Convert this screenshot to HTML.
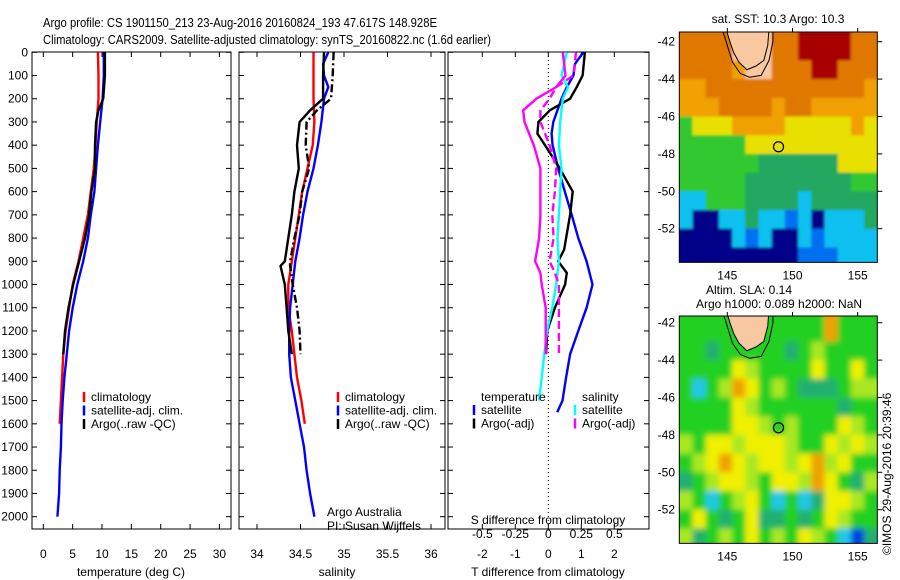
<!DOCTYPE html>
<html><head><meta charset="utf-8"><style>
body{margin:0;background:#fff}
svg{display:block;font-family:"Liberation Sans",sans-serif}
</style></head><body>
<svg id="c" width="900" height="580" viewBox="0 0 900 580">
<defs><filter id="blur" x="-5%" y="-5%" width="110%" height="110%"><feGaussianBlur stdDeviation="3"/></filter>
<filter id="blur2" x="-5%" y="-5%" width="110%" height="110%"><feGaussianBlur stdDeviation="1.2"/></filter></defs>
<text x="43" y="27" font-size="13" textLength="394" lengthAdjust="spacingAndGlyphs">Argo profile: CS 1901150_213 23-Aug-2016 20160824_193 47.617S 148.928E</text>
<text x="43" y="44" font-size="13" textLength="448" lengthAdjust="spacingAndGlyphs">Climatology: CARS2009. Satellite-adjusted climatology: synTS_20160822.nc (1.6d earlier)</text>
</svg>
<script>
// ---- data ----
const depthTicks=[0,100,200,300,400,500,600,700,800,900,1000,1100,1200,1300,1400,1500,1600,1700,1800,1900,2000];
const tTicks=[0,5,10,15,20,25,30];
const sTicks=[34,34.5,35,35.5,36];
const dTTicks=[-2,-1,0,1,2];
const dSTicks=[-0.5,-0.25,0,0.25,0.5];
const dSTickLabels=["-0.5","-0.25","0","0.25","0.5"];
const latTicks=[-42,-44,-46,-48,-50,-52];
const lonTicks=[145,150,155];
// temperature
const tClimDepth=[0,100,200,300,400,500,600,700,800,900,1000,1100,1200,1300,1400,1500,1600];
const tClim=[9.3,9.4,9.4,9.1,8.9,8.6,8.1,7.6,6.8,6.0,5.0,4.4,3.8,3.4,3.2,3.0,2.8];
const tSatDepth=[0,100,200,300,400,500,600,700,800,900,1000,1100,1200,1300,1400,1500,1600,1700,1800,1900,2000];
const tSat=[10.3,10.3,10.1,9.7,9.3,9.0,8.7,8.1,7.6,6.8,5.8,5.0,4.4,4.0,3.6,3.3,3.1,3.0,2.8,2.7,2.4];
const tArgoDepth=[0,100,200,250,300,400,500,600,700,800,900,1000,1100,1200,1300];
const tArgo=[10.5,10.5,10.2,9.4,9.0,8.8,8.8,8.2,7.8,7.1,6.1,5.1,4.3,3.7,3.4];
// salinity
const sClimDepth=tClimDepth;
const sClim=[34.65,34.65,34.65,34.66,34.64,34.58,34.52,34.48,34.44,34.40,34.36,34.36,34.40,34.43,34.46,34.51,34.55];
const sSatDepth=[0,50,100,150,200,300,400,500,600,700,800,900,1000,1100,1200,1300,1400,1500,1600,1700,1800,1900,2000];
const sSat=[34.82,34.76,34.77,34.82,34.77,34.74,34.70,34.65,34.58,34.53,34.49,34.44,34.41,34.38,34.37,34.37,34.39,34.44,34.49,34.54,34.57,34.61,34.66];
const sArgoDepth=[0,100,200,250,300,400,500,600,700,800,900,920,1000,1100,1200,1300];
const sArgo=[34.77,34.76,34.76,34.61,34.49,34.46,34.48,34.43,34.40,34.36,34.32,34.27,34.32,34.34,34.36,34.40];
const sArgoRaw=[34.88,34.87,34.85,34.69,34.57,34.56,34.60,34.52,34.49,34.43,34.38,34.38,34.41,34.46,34.49,34.50];
// differences
const dTSatDepth=[0,50,100,150,200,300,350,400,500,600,700,800,900,1000,1100,1200,1300,1400,1500,1550];
const dTSat=[1.06,0.81,0.76,0.56,0.40,0.15,0.10,0.13,0.30,0.50,0.71,0.91,1.16,1.34,1.16,0.91,0.66,0.54,0.43,0.27];
const dTArgoDepth=[0,100,150,200,250,300,350,400,500,600,700,800,850,900,950,1000,1100,1200,1300];
const dTArgo=[1.11,1.04,0.86,0.66,0.05,-0.30,-0.33,-0.10,0.35,0.74,0.66,0.54,0.48,0.30,0.56,0.51,0.20,-0.03,-0.07];
const dSSatDepth=[0,100,150,200,300,400,500,600,700,800,900,1000,1100,1200,1300,1400,1500];
const dSSat=[0.14,0.10,0.15,0.11,0.09,0.08,0.10,0.09,0.08,0.07,0.08,0.06,0.03,-0.01,-0.03,-0.05,-0.07];
const dSArgoDepth=[0,100,150,200,250,300,400,500,600,700,800,900,950,1000,1100,1200,1300];
const dSArgoRaw=[0.11,0.13,0.06,-0.09,-0.19,-0.18,-0.11,-0.06,-0.06,-0.06,-0.07,-0.10,-0.06,-0.05,-0.02,-0.02,-0.02];
const dSArgo=[0.21,0.19,0.06,0.01,-0.06,-0.06,0.01,0.06,0.05,0.03,0.04,0.01,0.05,0.08,0.08,0.08,0.08];
// maps (color codes per ~1deg cell, rows lat -42 downward, cols lon 141.3 eastward)
const sstGrid=[
"OOOOLLLOORRRROO","OOOOoLLOOORROOO","ooOOOOOOOOOOOOo","oooOOOOoOOooooo",
"GYYYooooYYYYYoY","GGGGGYYYYYYYYYY","GGGGGGggggggYYY","GGGGGggggggggGG",
"CCGGGggggCggggg","CNNCCgCCBCNCCCg","NNNNCBCNNCBCCCC","NNNNNNNNNBBBCCC"];
const slaGrid=[
"GGGGLLLGGGGOGGG","GGgGGLLGgGyGGGG","GGGGYyGGGGYGGYG","GCGyOYGyGgggGyy",
"GGGGYyGGGGGGgGG","GGGGYYyGyGGGYyG","yGYYyYYYyGGYyYy","GyYOYyYYyYOyYGG",
"gGyYYyGYYyOYGgy","yGCGyYGCGCgYYyG","GYGgGYggGgGYyGG","ygGyGYGyGYyGCBg"];
const argoLon=148.928, argoLat=-47.617;

// ---- helpers ----
const svg=document.getElementById('c');
const NS='http://www.w3.org/2000/svg';
function mk(tag,attrs,parent){const e=document.createElementNS(NS,tag);for(const k in attrs)e.setAttribute(k,attrs[k]);(parent||svg).appendChild(e);return e;}
const yD=d=>52.3+d*0.2322;
const PANEL_TOP=52, PANEL_BOT=529;
const xT=v=>43.3+v*5.87;
const xS=v=>257+(v-34)*87;
const xDT=v=>548.3+v*33;
const xDS=v=>548.3+v*132;

function frame(x0,x1,name){
  const r=mk('rect',{x:x0,y:PANEL_TOP,width:x1-x0,height:PANEL_BOT-PANEL_TOP,fill:'#fff',stroke:'#000','stroke-width':1});
  
  
  depthTicks.forEach(d=>{
    mk('line',{x1:x0,x2:x0+5,y1:yD(d),y2:yD(d),stroke:'#000'});
    mk('line',{x1:x1-5,x2:x1,y1:yD(d),y2:yD(d),stroke:'#000'});
  });
}
function xticks(vals,fx,x0,x1,labels,ly,name){
  vals.forEach((v,i)=>{
    const x=fx(v);
    mk('line',{x1:x,x2:x,y1:PANEL_TOP,y2:PANEL_TOP+5,stroke:'#000'});
    mk('line',{x1:x,x2:x,y1:PANEL_BOT-5,y2:PANEL_BOT,stroke:'#000'});
    const t=mk('text',{x:x,y:ly,'font-size':12,'text-anchor':'middle'});
    t.textContent=labels?labels[i]:String(v);
    
    
  });
}
function line(xs,ds,fx,color,name,dash,w){
  const pts=xs.map((v,i)=>fx(v).toFixed(1)+','+yD(ds[i]).toFixed(1)).join(' ');
  const p=mk('polyline',{points:pts,fill:'none',stroke:color,'stroke-width':w||2.4,'stroke-linejoin':'round'});
  if(dash)p.setAttribute('stroke-dasharray',dash);
  
  
}
function txt(x,y,s,name,size,anchor){
  const t=mk('text',{x:x,y:y,'font-size':size||12,'text-anchor':anchor||'start'});
  t.textContent=s;
  
  
  return t;
}
function legend(x,y,items,prefix){
  items.forEach((it,i)=>{
    mk('line',{x1:x,x2:x,y1:y+i*13.5-9,y2:y+i*13.5+1,stroke:it[1],'stroke-width':2.5});
    txt(x+7,y+i*13.5,it[0],prefix+'-legend-entry');
  });
}

// ---- panel 1: temperature ----
frame(32,231,'temperature-panel');
depthTicks.forEach(d=>txt(28,yD(d)+4,String(d),'depth-tick-label',12,'end'));
xticks(tTicks,xT,32,231,null,558,'temperature');
txt(131,576,'temperature (deg C)','temperature-axis-title',12,'middle');
line(tClim,tClimDepth,xT,'#ff0000','temperature-climatology-line');
line(tSat,tSatDepth,xT,'#0000ff','temperature-satellite-line');
line(tArgo,tArgoDepth,xT,'#000','temperature-argo-line');
legend(84,401,[['climatology','#f00'],['satellite-adj. clim.','#00f'],['Argo(..raw -QC)','#000']],'temperature');

// ---- panel 2: salinity ----
frame(239,445,'salinity-panel');
xticks(sTicks,xS,239,445,['34','34.5','35','35.5','36'],558,'salinity');
txt(337,576,'salinity','salinity-axis-title',12,'middle');
line(sClim,sClimDepth,xS,'#ff0000','salinity-climatology-line');
line(sSat,sSatDepth,xS,'#0000ff','salinity-satellite-line');
line(sArgoRaw,sArgoDepth,xS,'#000','salinity-argo-raw-line','8,3,2,3');
line(sArgo,sArgoDepth,xS,'#000','salinity-argo-line');
legend(338,401,[['climatology','#f00'],['satellite-adj. clim.','#00f'],['Argo(..raw -QC)','#000']],'salinity');
txt(327,516,'Argo Australia','credit-line-1');
txt(327,530,'PI: Susan Wijffels','credit-line-2');

// ---- panel 3: differences ----
frame(448,649,'difference-panel');
xticks(dTTicks,xDT,448,649,null,558,'t-difference');
txt(548,576,'T difference from climatology','t-difference-axis-title',12,'middle');
mk('line',{x1:xDT(0),x2:xDT(0),y1:PANEL_TOP,y2:PANEL_BOT,stroke:'#000','stroke-dasharray':'1,3'});
dSTicks.forEach((v,i)=>txt(xDS(v),522+16,dSTickLabels[i],'s-difference-tick-label',12,'middle'));
txt(548,524,'S difference from climatology','s-difference-axis-title',12,'middle');
line(dTSat,dTSatDepth,xDT,'#0000ff','t-diff-satellite-line');
line(dTArgo,dTArgoDepth,xDT,'#000','t-diff-argo-line');
line(dSSat,dSSatDepth,xDS,'#00ffff','s-diff-satellite-line');
line(dSArgoRaw,dSArgoDepth,xDS,'#ff00ff','s-diff-argo-raw-line');
line(dSArgo,dSArgoDepth,xDS,'#ff00ff','s-diff-argo-line','8,4');
txt(481,401,'temperature','diff-legend-temperature-header');
legend(474,414,[['satellite','#00f'],['Argo(-adj)','#000']],'t-diff');
txt(582,401,'salinity','diff-legend-salinity-header');
legend(575,414,[['satellite','#0ff'],['Argo(-adj)','#f0f']],'s-diff');

// ---- maps ----
const COL={R:'#a80000',O:'#e07800',o:'#f0a000',Y:'#e8e000',G:'#30c830',g:'#20a860',C:'#10c0f0',B:'#0070f0',N:'#000088',L:'#f8c8a0',y:'#a8e020'};
const COL2={G:'#20d020',g:'#20b070',y:'#a8e820',Y:'#f0f000',O:'#f0a000',C:'#20c8e8',B:'#0040e0',L:'#20d020'};
function map(top,lat42y,grid,cols,name,filt){
  const x0=679.3,x1=877.3,px=13.04,py=18.7;
  const xL=lon=>727.3+(lon-145)*px, yL=lat=>lat42y+(-42-lat)*py;
  const bot=yL(-53.8);
  const g=mk('g',{});
  
  
  mk('clipPath',{id:name+'-clip'},g);
  const cp=g.lastChild; mk('rect',{x:x0,y:top,width:x1-x0,height:bot-top},cp);
  const outer=mk('g',{'clip-path':'url(#'+name+'-clip)'},g);
  const cg=mk('g',{filter:'url(#'+filt+')'},outer);
  const cw=(x1-x0)/15;
  grid.forEach((row,r)=>{[...row].forEach((c,k)=>{
    const y0=r==0?top-10:yL(-42-r);
    const y1=r==grid.length-1?bot+10:yL(-43-r);
    const xa=k==0?x0-10:x0+k*cw, xb=k==14?x1+10:x0+(k+1)*cw;
    mk('rect',{x:xa,y:y0,width:xb-xa+0.5,height:y1-y0+0.5,fill:cols[c]},cg);
  });});
  const land=[[144.9,-41.3],[145.2,-42],[145.5,-42.6],[145.9,-43.1],[146.5,-43.5],[147.2,-43.3],[147.8,-43],[148.1,-42.2],[148.2,-41.3]];
  mk('polygon',{points:land.map(p=>xL(p[0])+','+yL(p[1])).join(' '),fill:'#f8c8a0',stroke:'#000','stroke-width':1},outer);
  const cont=[[144.6,-41.3],[145,-42.2],[145.4,-43.1],[146,-43.7],[146.7,-43.9],[147.6,-43.8],[148.2,-43],[148.5,-42],[148.5,-41.3]];
  mk('polyline',{points:cont.map(p=>xL(p[0])+','+yL(p[1])).join(' '),fill:'none',stroke:'#000','stroke-width':1},outer);
  mk('rect',{x:x0,y:top,width:x1-x0,height:bot-top,fill:'none',stroke:'#000'},g);
  latTicks.forEach(l=>{mk('line',{x1:x1,x2:x1+5,y1:yL(l),y2:yL(l),stroke:'#000'},g);
    txt(675,yL(l)+4,String(l),name+'-lat-label',12,'end');});
  lonTicks.forEach(l=>{mk('line',{x1:xL(l),x2:xL(l),y1:top-4,y2:top,stroke:'#000'},g);
    txt(xL(l),bot+17,String(l),name+'-lon-label',12,'middle');});
  const c=mk('circle',{cx:xL(argoLon),cy:yL(argoLat),r:5,fill:'none',stroke:'#000','stroke-width':1.2},g);
  
  
}
map(32,41.7,sstGrid,COL,'sst-map','blur2');
map(316,322.7,slaGrid,COL2,'sla-map','blur');
txt(778,23,'sat. SST: 10.3 Argo: 10.3','sst-map-title',12,'middle');
txt(749,294,'Altim. SLA: 0.14','sla-map-title-1',12,'middle');
txt(779,308,'Argo h1000: 0.089 h2000: NaN','sla-map-title-2',12,'middle');
const r=txt(0,0,'©IMOS 29-Aug-2016 20:39:46','imos-timestamp',12,'start');
r.setAttribute('transform','translate(891,555) rotate(-90)');
</script>
</body></html>
